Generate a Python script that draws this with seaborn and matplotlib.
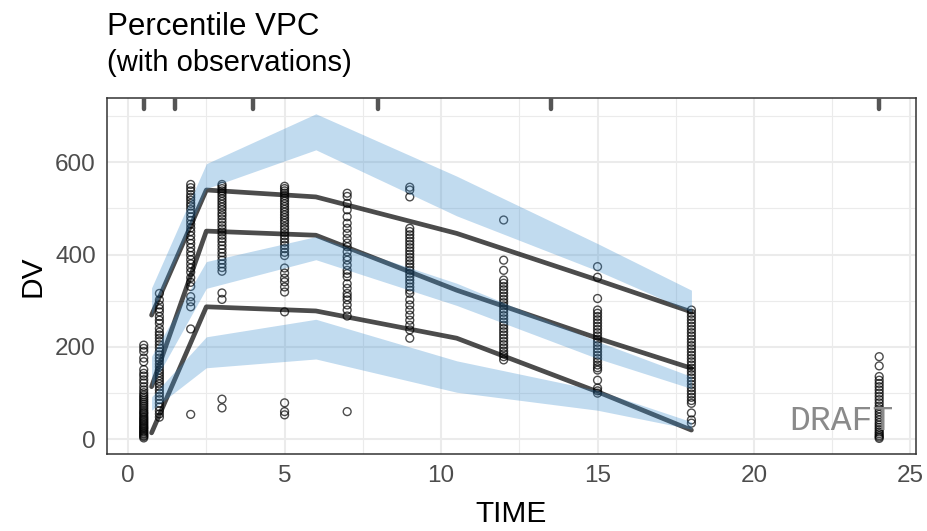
import numpy as np
import pandas as pd
import matplotlib
matplotlib.use("Agg")
import matplotlib.pyplot as plt
from matplotlib.ticker import MultipleLocator
import seaborn as sns

# ---------------------------------------------------------------------------
# Data
# ---------------------------------------------------------------------------

# observed DV per nominal sampling time
obs_times = [0.5, 1, 2, 3, 5, 7, 9, 12, 15, 18, 24]
dv_t0_5 = [204, 197, 190, 176, 168, 151, 143, 137, 129, 122, 114, 107, 101, 96, 92,
           88, 84, 80, 76, 72, 68, 64, 60, 57, 54, 50, 47, 44, 41, 38, 35, 32, 29,
           26, 24, 21, 18, 16, 13, 11, 8, 6, 3]
dv_t1 = [316, 302, 291, 283, 276, 266, 258, 251, 240, 232, 226, 219, 212, 205, 198,
         190, 183, 176, 170, 163, 157, 150, 144, 138, 132, 126, 120, 114, 107, 100,
         93, 86, 78, 70, 62, 55, 48]
dv_t2 = [552, 545, 538, 530, 524, 518, 511, 505, 498, 490, 482, 474, 466, 458, 450,
         441, 432, 424, 415, 406, 398, 389, 380, 371, 362, 350, 340, 331, 309, 298,
         287, 239, 54]
dv_t3 = [552, 548, 543, 538, 533, 527, 521, 515, 509, 503, 497, 490, 484, 477, 470,
         463, 456, 449, 442, 435, 428, 420, 412, 404, 396, 388, 380, 372, 364, 317,
         303, 87, 68]
dv_t5 = [548, 543, 538, 533, 528, 522, 516, 510, 504, 498, 492, 486, 480, 474, 468,
         461, 455, 448, 441, 434, 427, 420, 413, 405, 398, 371, 360, 349, 341, 330,
         319, 276, 79, 60, 53]
dv_t7 = [533, 526, 511, 497, 482, 468, 457, 446, 435, 425, 417, 406, 395, 388, 377,
         366, 359, 352, 337, 327, 316, 309, 302, 291, 280, 267, 60]
dv_t9 = [546, 540, 525, 457, 450, 443, 436, 429, 422, 415, 408, 401, 394, 387, 380,
         373, 366, 359, 352, 345, 338, 330, 323, 316, 302, 291, 280, 269, 258, 247,
         237, 219]
dv_t12 = [475, 388, 366, 345, 338, 331, 324, 317, 310, 303, 296, 289, 282, 275, 268,
          261, 254, 247, 240, 233, 226, 219, 212, 205, 198, 191, 185, 179, 172]
dv_t15 = [374, 351, 305, 280, 273, 266, 259, 252, 245, 238, 231, 224, 217, 210, 203,
          196, 189, 182, 175, 168, 161, 155, 150, 128, 111, 105, 100]
dv_t18 = [280, 273, 266, 259, 252, 245, 238, 231, 224, 217, 210, 203, 196, 189, 182,
          175, 168, 161, 154, 147, 140, 133, 126, 119, 112, 105, 98, 91, 84, 78, 57,
          42, 35]
dv_t24 = [179, 159, 136, 128, 121, 114, 107, 100, 93, 86, 79, 72, 66, 60, 54, 48, 42,
          36, 31, 26, 21, 16, 12, 8, 5, 2]
obs_dv = [dv_t0_5, dv_t1, dv_t2, dv_t3, dv_t5, dv_t7, dv_t9, dv_t12, dv_t15, dv_t18, dv_t24]

# binning
bin_mid = [0.75, 2.5, 6, 10.5, 15, 18]
bin_edges = [0.5, 1.5, 4, 8, 13.5, 24]

# observed percentiles
obs_p05 = [14, 287, 278, 219, 103, 20]
obs_p50 = [114, 451, 442, 323, 219, 154]
obs_p95 = [269, 540, 525, 446, 345, 276]

# simulated percentile confidence intervals
sim_p05_lo = [63, 155, 174, 102, 63, 22]
sim_p05_hi = [92, 222, 260, 170, 106, 38]
sim_p50_lo = [114, 327, 389, 290, 175, 110]
sim_p50_hi = [180, 385, 439, 338, 212, 136]
sim_p95_lo = [270, 543, 627, 484, 365, 276]
sim_p95_hi = [328, 597, 705, 570, 424, 323]

PI_FILL = "#3388cc"
GRID = "#ebebeb"
FRAME = "#333333"

# ---------------------------------------------------------------------------
# Tables
# ---------------------------------------------------------------------------

obs_df = pd.DataFrame({
    "TIME": np.concatenate([[t] * len(v) for t, v in zip(obs_times, obs_dv)]),
    "DV": np.concatenate(obs_dv),
})
pct_df = pd.concat([
    pd.DataFrame({"TIME": bin_mid, "DV": vals, "pct": name})
    for name, vals in [("p05", obs_p05), ("p50", obs_p50), ("p95", obs_p95)]
])
ci_bands = [(sim_p05_lo, sim_p05_hi), (sim_p50_lo, sim_p50_hi), (sim_p95_lo, sim_p95_hi)]

# ---------------------------------------------------------------------------
# Plot
# ---------------------------------------------------------------------------

sns.set_style("white")
plt.rcParams["font.family"] = ["Liberation Sans", "DejaVu Sans"]

fig = plt.figure(figsize=(9.27, 5.31), dpi=100)
ax = fig.add_axes([0.1154, 0.1450, 0.8727, 0.6699])

sns.scatterplot(data=obs_df, x="TIME", y="DV", ax=ax, marker="o", s=32,
                facecolors="none", edgecolors="black", linewidths=1.0,
                alpha=0.7, zorder=2, legend=False)

sns.lineplot(data=pct_df, x="TIME", y="DV", units="pct", estimator=None,
             color="black", alpha=0.7, linewidth=3.4, ax=ax, zorder=3,
             legend=False)

for lo, hi in ci_bands:
    ax.fill_between(bin_mid, lo, hi, color=PI_FILL, alpha=0.3, linewidth=0, zorder=4)

# bin separators as a rug on top
ax.vlines(bin_edges, 0.97, 1.0, transform=ax.get_xaxis_transform(),
          colors="#555555", linewidth=3.2, capstyle="round", zorder=5)

ax.text(0.972, 0.067, "DRAFT", transform=ax.transAxes, ha="right", va="baseline",
        fontsize=25, color="#8a8a8a", family=["Liberation Mono", "DejaVu Sans Mono"],
        zorder=6)

ax.set_xlim(-0.675, 25.175)
ax.set_ylim(-31.8, 738.6)
ax.xaxis.set_major_locator(MultipleLocator(5))
ax.xaxis.set_minor_locator(MultipleLocator(2.5))
ax.yaxis.set_major_locator(MultipleLocator(200))
ax.yaxis.set_minor_locator(MultipleLocator(100))
ax.set_yticks([0, 200, 400, 600])

ax.grid(which="major", color=GRID, linewidth=1.5)
ax.grid(which="minor", color=GRID, linewidth=0.8)
ax.set_axisbelow(True)
for sp in ax.spines.values():
    sp.set_color(FRAME)
    sp.set_linewidth(1.1)

ax.tick_params(which="major", direction="out", length=5, width=1.1, color=FRAME,
               labelsize=17.5, labelcolor="#4d4d4d", pad=3)
ax.tick_params(which="minor", length=0)

ax.set_xlabel("TIME", fontsize=21.5, labelpad=9, color="black")
ax.set_ylabel("DV", fontsize=21.5, labelpad=6, color="black")

fig.text(0.1154, 0.935, "Percentile VPC", fontsize=22.5, ha="left", va="baseline",
         color="black")
fig.text(0.1154, 0.866, "(with observations)", fontsize=21, ha="left", va="baseline",
         color="black")

fig.savefig("out.png", dpi=100)
